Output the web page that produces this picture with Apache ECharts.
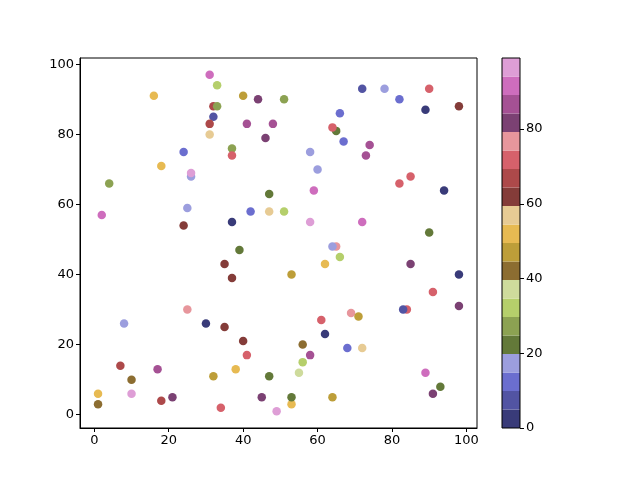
<!DOCTYPE html>
<html><head><meta charset="utf-8">
<script src="https://cdn.jsdelivr.net/npm/echarts@6/dist/echarts.min.js"></script>
<style>html,body{margin:0;padding:0;background:#fff}#c{width:640px;height:480px}</style>
</head><body><div id="c"></div>
<script>
const xs = [31,33,16,32,33,32,31,31,24,18,26,26,4,40,44,51,41,48,46,37,37,66,65,64,67,58,60,72,78,90,82,89,98,74,73,85,82,2,25,24,25,47,59,42,47,51,37,58,39,35,37,65,64,66,62,53,94,72,90,85,98,91,98,84,83,69,71,8,30,7,10,17,32,1,10,1,18,21,35,40,41,38,47,34,45,49,53,53,64,61,62,56,58,56,55,68,72,89,93,91];
const ys = [97,94,91,88,88,85,83,80,75,71,68,69,66,91,90,90,83,83,79,76,74,86,81,82,78,75,70,93,93,93,90,87,88,77,74,68,66,57,59,54,30,63,64,58,58,58,55,55,47,43,39,48,48,45,43,40,64,55,52,43,40,35,31,30,30,29,28,26,26,14,10,13,11,6,6,3,4,5,25,21,17,13,11,2,5,1,3,5,5,27,23,20,17,15,12,19,19,12,8,6];
const cs = [92,32,52,67,27,7,67,57,12,52,17,97,27,47,82,27,87,87,82,27,72,12,22,72,12,17,17,7,17,72,12,2,62,87,87,72,72,92,17,62,77,22,92,12,57,32,2,97,22,62,62,77,17,32,52,47,2,92,22,82,2,72,82,72,7,77,47,17,2,67,42,87,47,52,97,42,67,82,62,62,72,52,22,72,82,97,52,22,47,72,2,42,87,32,37,12,57,92,22,82];
const cmap = ['#393b79','#5254a3','#6b6ecf','#9c9ede','#637939','#8ca252','#b5cf6b','#cedb9c','#8c6d31','#bd9e39','#e7ba52','#e7cb94','#843c39','#ad494a','#d6616b','#e7969c','#7b4173','#a55194','#ce6dbd','#de9ed6'];
const vmin = 0, vmax = 99;
const xTicks = [0,20,40,60,80,100];
const yTicks = [0,20,40,60,80,100];
const cbTicks = [0,20,40,60,80];

const step = (vmax - vmin) / cmap.length;
const pieces = cmap.map((c,i)=>({gte: vmin + i*step, lt: vmin + (i+1)*step + (i===cmap.length-1?1:0), color: c}));
const pts = xs.map((x,i)=>[x, ys[i], cs[i]]);
const font = 'DejaVu Sans';
const lbl = {color:'#000', fontSize:13, fontFamily:font};

const cbSeries = cmap.map((c,i)=>({
  type:'bar', xAxisIndex:1, yAxisIndex:1, stack:'cb', data:[step],
  barWidth:'100%', itemStyle:{color:c}, silent:true
}));

const chart = echarts.init(document.getElementById('c'), null, {renderer:'canvas'});
chart.setOption({
  animation:false,
  grid:[
    {left:80, top:58, width:397, height:370, show:true, borderColor:'#000', borderWidth:1, backgroundColor:'transparent'},
    {left:502, top:58, width:18, height:370, show:true, borderColor:'#000', borderWidth:1, z:5}
  ],
  xAxis:[
    {type:'value', gridIndex:0, min:-3.85, max:102.85, splitLine:{show:false},
     axisLine:{show:true, onZero:false, lineStyle:{color:'#000'}},
     axisTick:{show:true, inside:false, length:4, lineStyle:{color:'#000'}, customValues:xTicks},
     axisLabel:Object.assign({margin:6, customValues:xTicks}, lbl)},
    {type:'category', gridIndex:1, data:['c'], show:false}
  ],
  yAxis:[
    {type:'value', gridIndex:0, min:-3.8, max:101.8, splitLine:{show:false},
     axisLine:{show:true, onZero:false, lineStyle:{color:'#000'}},
     axisTick:{show:true, inside:false, length:4, lineStyle:{color:'#000'}, customValues:yTicks},
     axisLabel:Object.assign({margin:6, customValues:yTicks}, lbl)},
    {type:'value', gridIndex:1, position:'right', min:vmin, max:vmax, splitLine:{show:false},
     axisLine:{show:false},
     axisTick:{show:true, inside:false, length:4, lineStyle:{color:'#000'}, customValues:cbTicks},
     axisLabel:Object.assign({margin:6, customValues:cbTicks}, lbl)}
  ],
  visualMap:{type:'piecewise', show:false, seriesIndex:0, dimension:2, pieces:pieces},
  series:[
    {type:'scatter', xAxisIndex:0, yAxisIndex:0, data:pts, symbolSize:8.5, itemStyle:{opacity:1}, silent:true}
  ].concat(cbSeries)
});
</script></body></html>
